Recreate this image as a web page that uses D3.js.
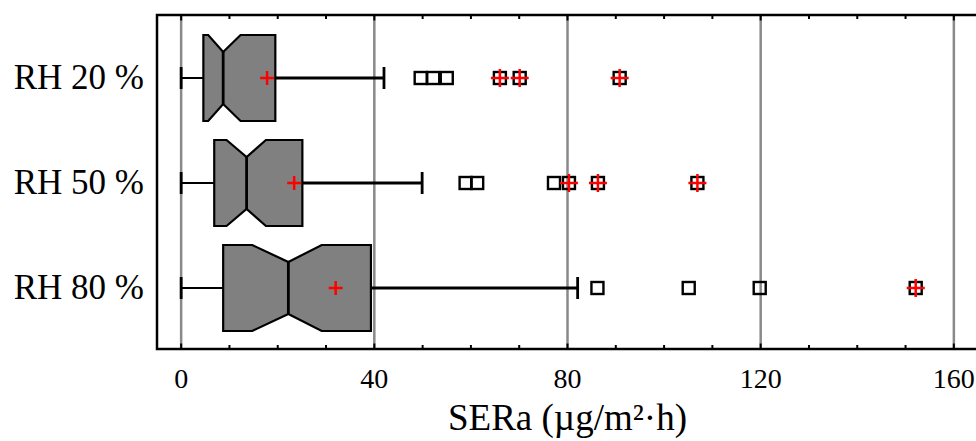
<!DOCTYPE html>
<html>
<head>
<meta charset="utf-8">
<script src="https://cdn.jsdelivr.net/npm/d3@7"></script>
<style>
  html, body { margin: 0; padding: 0; background: #fff; }
  svg { display: block; }
  text { font-family: "Liberation Serif", "Times New Roman", serif; fill: #000; }
</style>
</head>
<body>
<svg id="chart" width="976" height="441"></svg>
<script>
// ---- data ----
const categories = ["RH 20 %", "RH 50 %", "RH 80 %"];
const whiskerLow = [0, 0, 0];
const q1 = [4.6, 6.85, 8.7];
const notchLow = [5.6, 9.4, 14.7];
const median = [8.7, 13.55, 22.2];
const notchHigh = [12.3, 17.55, 29.1];
const q3 = [19.5, 25.1, 39.3];
const whiskerHigh = [42.0, 49.9, 82.1];
const means = [17.8, 23.4, 32.0];
const outliers = [[49.6, 52.2, 55.0], [58.9, 61.3, 77.2], [86.2, 105.1, 119.8]];
const farOutliers = [[66.0, 70.1, 90.8], [80.3, 86.3, 106.9], [152.1]];
const xTickValues = [0, 40, 80, 120, 160];
const xMinorTicks = d3.range(0, 161, 10);
const xTitle = "SERa (\u00b5g/m\u00b2\u00b7h)";

// ---- layout ----
const svg = d3.select("#chart");
const L = 157, R = 978, T = 15, B = 349;
const x = d3.scaleLinear().domain([-5, 165]).range([L, R]);
const y = d3.scalePoint().domain(categories).range([T + 1, B + 1]).padding(0.5905);

const boxHalf = 43, notchHalf = 26, capHalf = 11;

// grid lines
svg.append("g").selectAll("line").data(xTickValues).join("line")
  .attr("x1", d => x(d)).attr("x2", d => x(d))
  .attr("y1", T).attr("y2", B)
  .attr("stroke", "#898989").attr("stroke-width", 2.5);

// inside ticks, bottom and top
svg.append("g").selectAll("line").data(xMinorTicks).join("line")
  .attr("x1", d => x(d)).attr("x2", d => x(d))
  .attr("y1", B).attr("y2", d => B - (d % 40 === 0 ? 5.5 : 4))
  .attr("stroke", "#000").attr("stroke-width", 2);
svg.append("g").selectAll("line").data(xMinorTicks).join("line")
  .attr("x1", d => x(d)).attr("x2", d => x(d))
  .attr("y1", T).attr("y2", d => T + (d % 40 === 0 ? 5.5 : 4))
  .attr("stroke", "#000").attr("stroke-width", 2);

// tick labels
svg.append("g").selectAll("text").data(xTickValues).join("text")
  .attr("x", d => x(d)).attr("y", 388)
  .attr("text-anchor", "middle")
  .style("font-size", "28px")
  .text(d => d);

// x title
svg.append("text")
  .attr("x", (L + R) / 2).attr("y", 430)
  .attr("text-anchor", "middle")
  .style("font-size", "37px")
  .text(xTitle);

// y labels
svg.append("g").selectAll("text").data(categories).join("text")
  .attr("x", 144).attr("y", d => y(d) + 11)
  .attr("text-anchor", "end")
  .style("font-size", "35px")
  .text(d => d);

// boxes
const g = svg.append("g");
categories.forEach((c, i) => {
  const cy = y(c);
  // left whisker
  g.append("line").attr("x1", x(whiskerLow[i])).attr("x2", x(q1[i]))
    .attr("y1", cy).attr("y2", cy).attr("stroke", "#000").attr("stroke-width", 2);
  g.append("line").attr("x1", x(whiskerLow[i])).attr("x2", x(whiskerLow[i]))
    .attr("y1", cy - capHalf).attr("y2", cy + capHalf).attr("stroke", "#000").attr("stroke-width", 2.8);
  // right whisker
  g.append("line").attr("x1", x(q3[i])).attr("x2", x(whiskerHigh[i]))
    .attr("y1", cy).attr("y2", cy).attr("stroke", "#000").attr("stroke-width", 3);
  g.append("line").attr("x1", x(whiskerHigh[i])).attr("x2", x(whiskerHigh[i]))
    .attr("y1", cy - capHalf).attr("y2", cy + capHalf).attr("stroke", "#000").attr("stroke-width", 2.8);

  // notched box
  const pts = [
    [x(q1[i]), cy - boxHalf],
    [x(notchLow[i]), cy - boxHalf],
    [x(median[i]), cy - notchHalf],
    [x(notchHigh[i]), cy - boxHalf],
    [x(q3[i]), cy - boxHalf],
    [x(q3[i]), cy + boxHalf],
    [x(notchHigh[i]), cy + boxHalf],
    [x(median[i]), cy + notchHalf],
    [x(notchLow[i]), cy + boxHalf],
    [x(q1[i]), cy + boxHalf]
  ];
  g.append("path").attr("d", d3.line()(pts) + "Z")
    .attr("fill", "#808080").attr("stroke", "#000").attr("stroke-width", 2.2)
    .attr("stroke-linejoin", "miter");
  g.append("line").attr("x1", x(median[i])).attr("x2", x(median[i]))
    .attr("y1", cy - notchHalf).attr("y2", cy + notchHalf)
    .attr("stroke", "#000").attr("stroke-width", 2.8);

  // outliers
  const sq = 12;
  outliers[i].concat(farOutliers[i]).forEach(v => {
    g.append("rect").attr("x", x(v) - sq / 2).attr("y", cy - sq / 2)
      .attr("width", sq).attr("height", sq)
      .attr("fill", "none").attr("stroke", "#000").attr("stroke-width", 2.4);
  });
  const plus = (v, arm) => {
    g.append("line").attr("x1", x(v) - arm).attr("x2", x(v) + arm)
      .attr("y1", cy).attr("y2", cy).attr("stroke", "#ff0000").attr("stroke-width", 2.5);
    g.append("line").attr("x1", x(v)).attr("x2", x(v))
      .attr("y1", cy - arm).attr("y2", cy + arm).attr("stroke", "#ff0000").attr("stroke-width", 2.5);
  };
  farOutliers[i].forEach(v => plus(v, 9));
  plus(means[i], 7);
});

// frame
svg.append("rect").attr("x", L).attr("y", T).attr("width", R - L).attr("height", B - T)
  .attr("fill", "none").attr("stroke", "#000").attr("stroke-width", 2.5);
</script>
</body>
</html>
